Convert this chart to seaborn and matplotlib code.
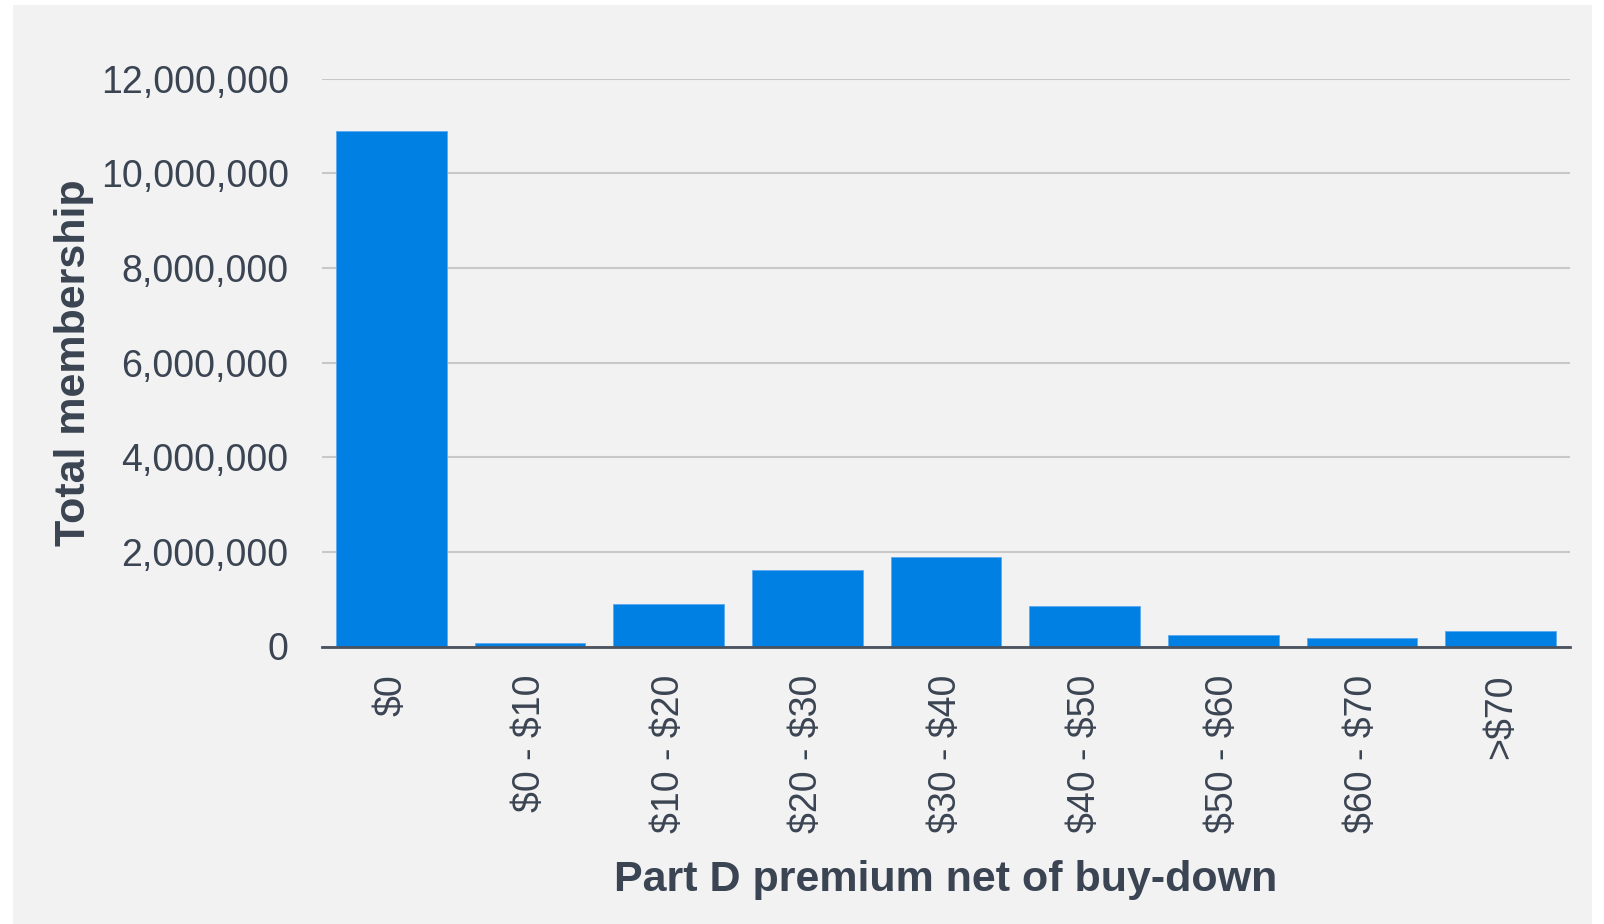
import matplotlib
matplotlib.use("Agg")
import matplotlib.pyplot as plt
import matplotlib.ticker as mticker
from matplotlib.patches import Rectangle
import seaborn as sns
import pandas as pd

categories = ["$0", "$0 - $10", "$10 - $20", "$20 - $30", "$30 - $40",
              "$40 - $50", "$50 - $60", "$60 - $70", ">$70"]
membership = [10900000, 70000, 905000, 1610000, 1900000,
              855000, 240000, 177000, 325000]
y_ticks = [0, 2000000, 4000000, 6000000, 8000000, 10000000, 12000000]

df = pd.DataFrame({"category": categories, "membership": membership})

sns.set_theme(style="white")
plt.rcParams['font.family'] = ['Liberation Sans', 'DejaVu Sans']

TEXT = "#3A4452"
BG = "#F2F2F2"
BAR = "#0080E3"

W, H = 1604, 924
fig = plt.figure(figsize=(W / 100, H / 100), dpi=100, facecolor="white")
fig.patches.append(Rectangle((13 / W, 0), (1592 - 13) / W, (924 - 5) / H,
                             transform=fig.transFigure, facecolor=BG,
                             edgecolor="none", zorder=-10))

left, right, top, bottom = 322, 1570, 78.8, 646.5
ax = fig.add_axes([left / W, 1 - bottom / H, (right - left) / W, (bottom - top) / H])
ax.set_facecolor(BG)
ax.patch.set_alpha(0)

sns.barplot(data=df, x="category", y="membership", color=BAR, saturation=1,
            width=0.8, ax=ax, edgecolor="#5AAAF0", linewidth=0.6, zorder=3)

ax.set_ylim(0, 12000000)
ax.set_xlim(-0.5, len(categories) - 0.5)
ax.set_yticks(y_ticks)
ax.yaxis.set_major_formatter(mticker.FuncFormatter(lambda v, p: f"{int(v):,}"))
ax.set_xticks(range(len(categories)))
ax.set_xticklabels([c.replace("$", r"\$") for c in categories])
ax.grid(axis="y", color="#C8C8C8", linewidth=1.5, zorder=0)
ax.set_axisbelow(True)

for s in ["top", "right", "left"]:
    ax.spines[s].set_visible(False)
ax.spines["bottom"].set_color("#4A5260")
ax.spines["bottom"].set_linewidth(2)
ax.spines["bottom"].set_zorder(4)

ax.tick_params(axis="y", length=0, pad=24, labelsize=27, labelcolor=TEXT)
ax.tick_params(axis="x", length=0, pad=20, labelsize=27, labelcolor=TEXT,
               labelrotation=90)

ax.set_xlabel("Part D premium net of buy-down", fontsize=31, fontweight="bold",
              color=TEXT)
ax.set_ylabel("Total membership", fontsize=31, fontweight="bold", color=TEXT)
ax.xaxis.label.set_va("center")
ax.yaxis.label.set_va("center")
ax.xaxis.set_label_coords(0.5, -(880 - bottom) / (bottom - top), transform=ax.transAxes)
ax.yaxis.set_label_coords(-(left - 74) / (right - left), 0.5, transform=ax.transAxes)

fig.savefig("out.png", dpi=100, facecolor="white")
